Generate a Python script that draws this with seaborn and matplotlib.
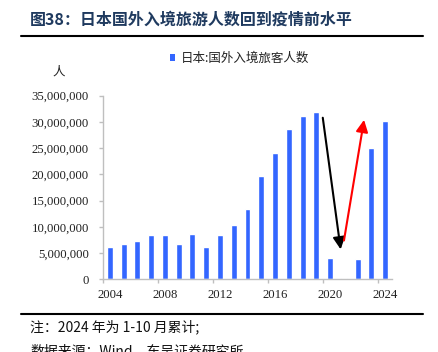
import matplotlib
matplotlib.use("Agg")
import matplotlib.pyplot as plt
import matplotlib.ticker as mticker
from matplotlib.lines import Line2D
from matplotlib.patches import Patch
import seaborn as sns
import pandas as pd

years = list(range(2004, 2025))
visitors = [6140000, 6730000, 7330000, 8350000, 8350000, 6790000, 8610000,
            6220000, 8360000, 10360000, 13410000, 19740000, 24040000, 28690000,
            31190000, 31880000, 4120000, 246000, 3830000, 25070000, 30190000]
series_name = "日本:国外入境旅客人数"
title = "图38：日本国外入境旅游人数回到疫情前水平"
y_unit = "人"
note1 = "注：2024 年为 1-10 月累计;"
note2 = "数据来源：Wind，东吴证券研究所"
label_years = [2004, 2008, 2012, 2016, 2020, 2024]
# arrows (category index, value)
black_arrow = [(15.47, 30800000), (16.77, 5700000)]
red_arrow = [(17.01, 7400000), (18.47, 30400000)]

df = pd.DataFrame({"year": [str(y) for y in years], "visitors": visitors})

sns.set_theme(style="white")
cjk = ["Noto Sans CJK SC", "DejaVu Sans"]
serif = ["Liberation Serif", "DejaVu Serif"]
plt.rcParams["font.family"] = cjk

W, H = 438, 352
fig = plt.figure(figsize=(W / 100, H / 100), dpi=100)
ax = fig.add_axes([103 / W, (H - 279.3) / H, 289 / W, (279.3 - 95.7) / H])

bar_color = "#3366FF"
sns.barplot(data=df, x="year", y="visitors", color=bar_color, width=0.43,
            saturation=1, ax=ax)

ax.set_xlim(-0.5, len(years) - 0.5)
ax.set_ylim(0, 35000000)
ax.yaxis.set_major_locator(mticker.MultipleLocator(5000000))
ax.yaxis.set_major_formatter(mticker.FuncFormatter(lambda v, p: f"{int(v):,}"))
pos = [years.index(y) for y in label_years]
ax.set_xticks(pos)
ax.set_xticklabels([str(y) for y in label_years])
ax.set_xticks([p - 0.5 for p in pos], minor=True)
ax.set_xlabel("")
ax.set_ylabel("")

for lab in ax.get_xticklabels() + ax.get_yticklabels():
    lab.set_family(serif)
    lab.set_fontsize(9.2)
    lab.set_color("#222222")

spine_c = "#BFBFBF"
for s in ["top", "right"]:
    ax.spines[s].set_visible(False)
for s in ["left", "bottom"]:
    ax.spines[s].set_color(spine_c)
    ax.spines[s].set_linewidth(1.0)
ax.tick_params(axis="y", which="major", length=3, width=1, color=spine_c,
               direction="out", pad=7.2, left=True)
ax.tick_params(axis="x", which="major", length=0, pad=7.0, bottom=True)
ax.tick_params(axis="x", which="minor", length=3, width=1, color=spine_c,
               direction="out", bottom=True)

# arrows
ax.annotate("", xy=black_arrow[1], xytext=black_arrow[0],
            arrowprops=dict(arrowstyle="-|>,head_length=0.6,head_width=0.3",
                            color="black", lw=1.5, shrinkA=0, shrinkB=0))
ax.annotate("", xy=red_arrow[1], xytext=red_arrow[0],
            arrowprops=dict(arrowstyle="-|>,head_length=0.6,head_width=0.3",
                            color="#FF0000", lw=1.5, shrinkA=0, shrinkB=0))

# legend
leg = fig.legend(handles=[Patch(facecolor=bar_color, edgecolor="none")],
                 labels=[series_name],
                 loc="center left", bbox_to_anchor=(170 / W, 1 - 58.5 / H),
                 frameon=False, fontsize=9, handlelength=0.42, handleheight=0.42,
                 handletextpad=0.45, borderpad=0, borderaxespad=0)
for t in leg.get_texts():
    t.set_color("#222222")

# texts
fig.text(30 / W, 1 - 19.5 / H, title, fontsize=11.5, fontweight="bold",
         color="#1F3A5F", va="center", ha="left", family=cjk)
fig.text(59 / W, 1 - 72 / H, y_unit, fontsize=9, va="center", ha="center",
         color="#222222", family=cjk)
fig.text(30 / W, 1 - 327 / H, note1, fontsize=10, va="center", ha="left",
         color="#111111", family=cjk)
fig.text(30 / W, 1 - 344 / H, note2, fontsize=10, va="top", ha="left",
         color="#111111", family=cjk)

# rules
fig.add_artist(Line2D([20.7 / W, 422.7 / W], [1 - 35.7 / H] * 2,
                      color="black", lw=1.5, transform=fig.transFigure))
fig.add_artist(Line2D([20.7 / W, 422.7 / W], [1 - 314.3 / H] * 2,
                      color="black", lw=1.5, transform=fig.transFigure))

fig.savefig("out.png", dpi=100)
